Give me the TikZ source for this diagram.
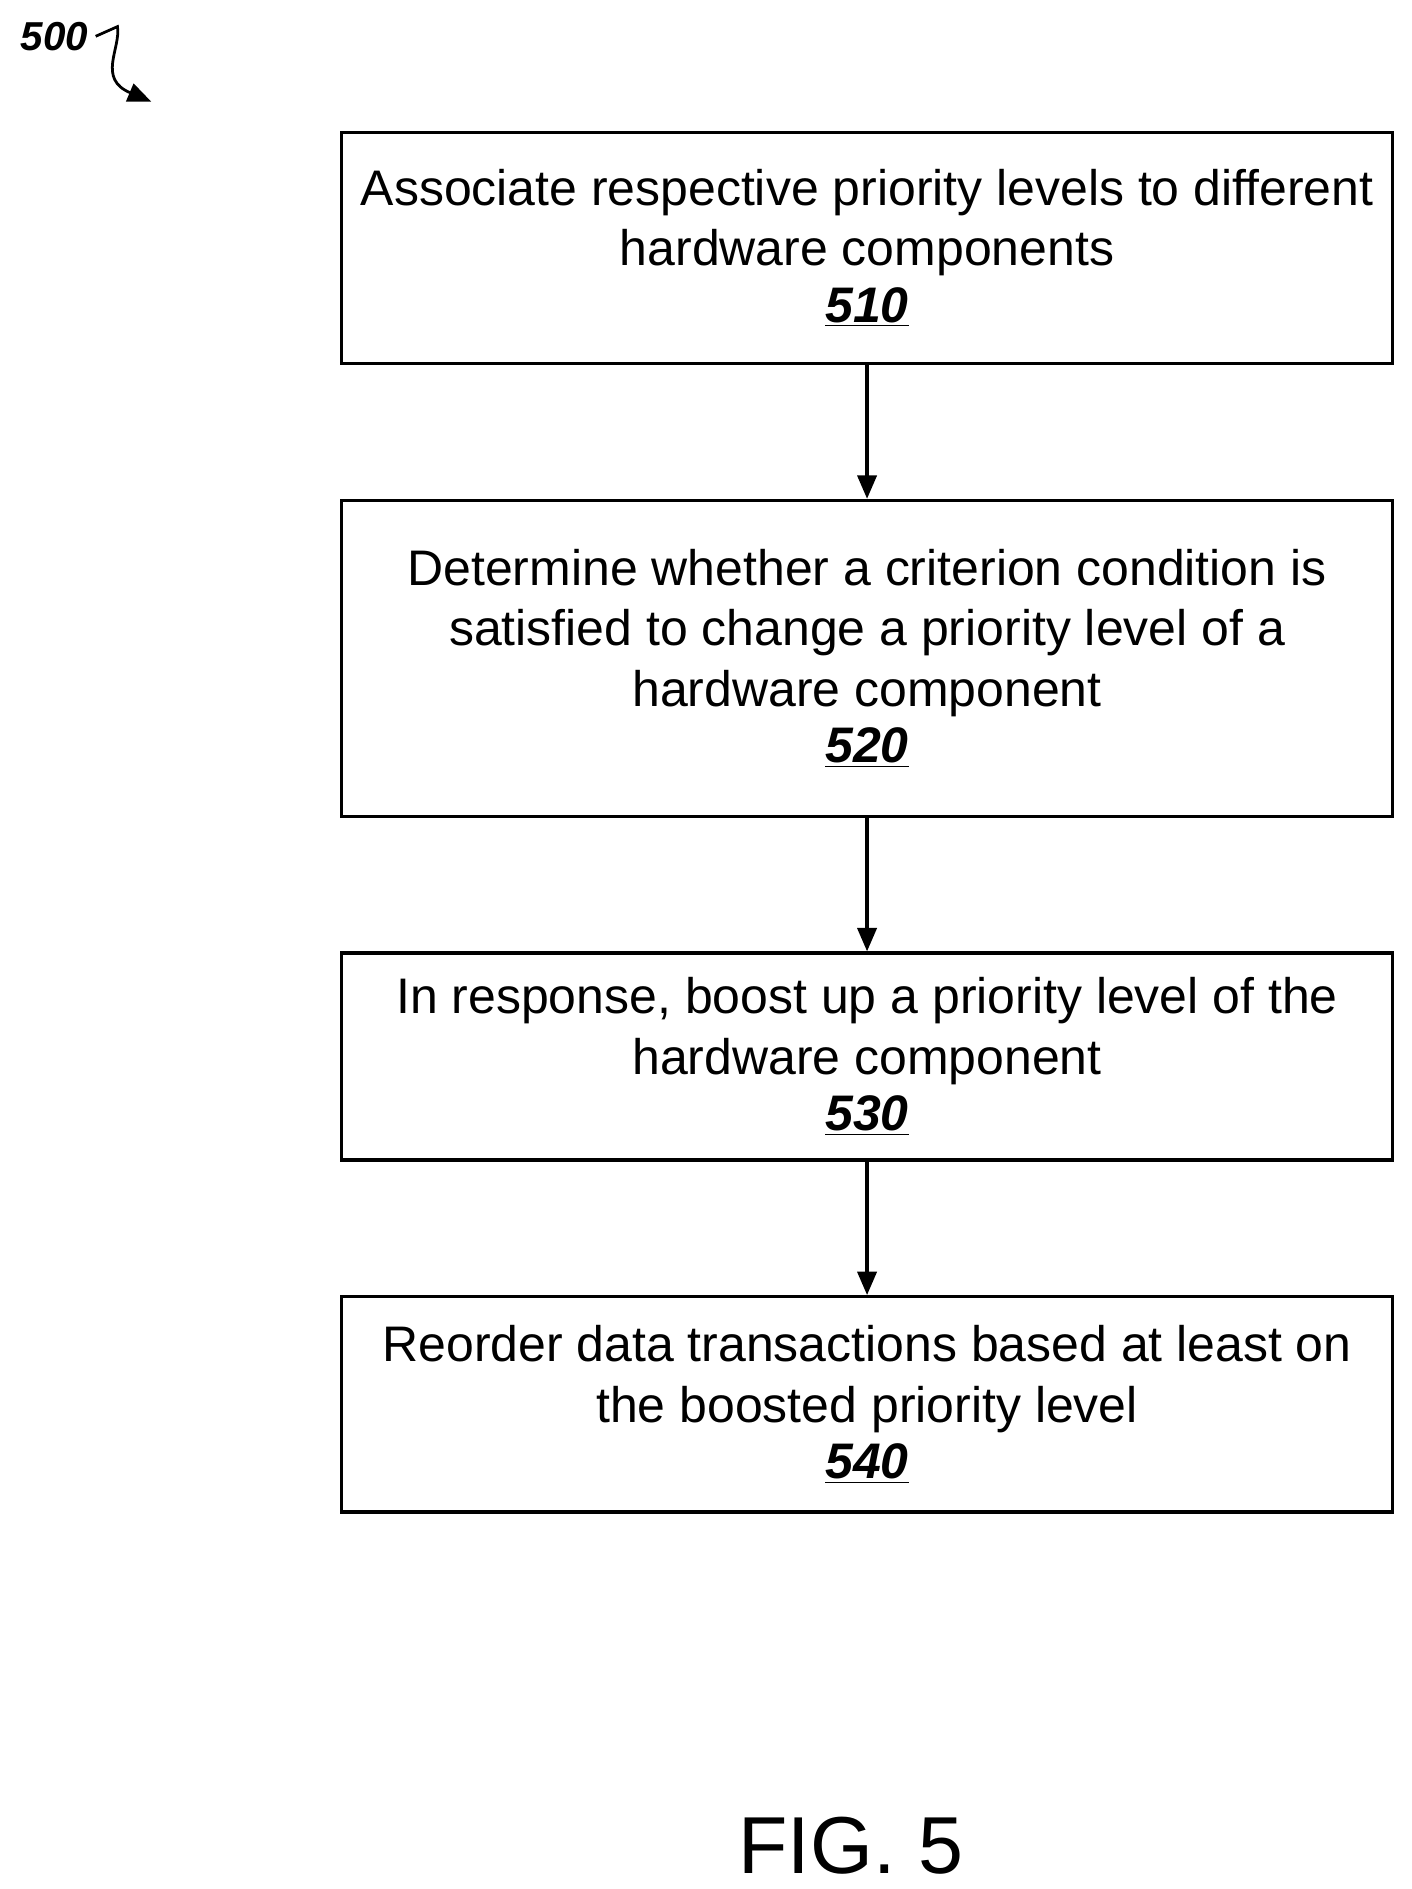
\documentclass[tikz,border=0pt]{standalone}
\usepackage{fontspec}
\setmainfont{Liberation Sans}
\usetikzlibrary{arrows.meta}
\tikzset{
  stepbox/.style={draw, line width=1.5pt, align=center, inner sep=0pt,
    font=\fontsize{23.5}{28.5}\selectfont},
  flow/.style={-{Triangle[length=11pt,width=9pt]}, line width=1.6pt}
}
\newcommand{\stepnum}[1]{\textbf{\textit{\underline{#1}}}}
\begin{document}
\begin{tikzpicture}[x=0.02cm,y=-0.02cm]
    \useasboundingbox (0,0) rectangle (1166,1561);

    % cajas
    \node[stepbox, minimum width=869*0.02cm, minimum height=191*0.02cm] (s510) at (716.5,205)
      {Associate respective priority levels to different\\hardware components\\[-2pt]\stepnum{510}};
    \node[stepbox, minimum width=869*0.02cm, minimum height=261*0.02cm] (s520) at (716.5,544)
      {Determine whether a criterion condition is\\satisfied to change a priority level of a\\hardware component\\[-2pt]\stepnum{520}};
    \node[stepbox, minimum width=869*0.02cm, minimum height=171*0.02cm] (s530) at (716.5,873)
      {In response, boost up a priority level of the\\hardware component\\[-2pt]\stepnum{530}};
    \node[stepbox, minimum width=869*0.02cm, minimum height=178*0.02cm] (s540) at (716.5,1160.5)
      {Reorder data transactions based at least on\\the boosted priority level\\[-2pt]\stepnum{540}};

    % flechas
    \draw[flow] (s510) -- (s520);
    \draw[flow] (s520) -- (s530);
    \draw[flow] (s530) -- (s540);

    % etiqueta
    \node[font=\fontsize{19}{22}\selectfont\bfseries\itshape] (fig) at (45,30) {500};
    \coordinate (tip) at (125,84);
    \draw[flow, line width=1.3pt] (fig.east) -- ++(18,-8) .. controls (100,40) and (80,65) .. (tip);
    \node[font=\fontsize{38}{44}\selectfont] (cap) at (703,1525) {FIG. 5};
\end{tikzpicture}
\end{document}
